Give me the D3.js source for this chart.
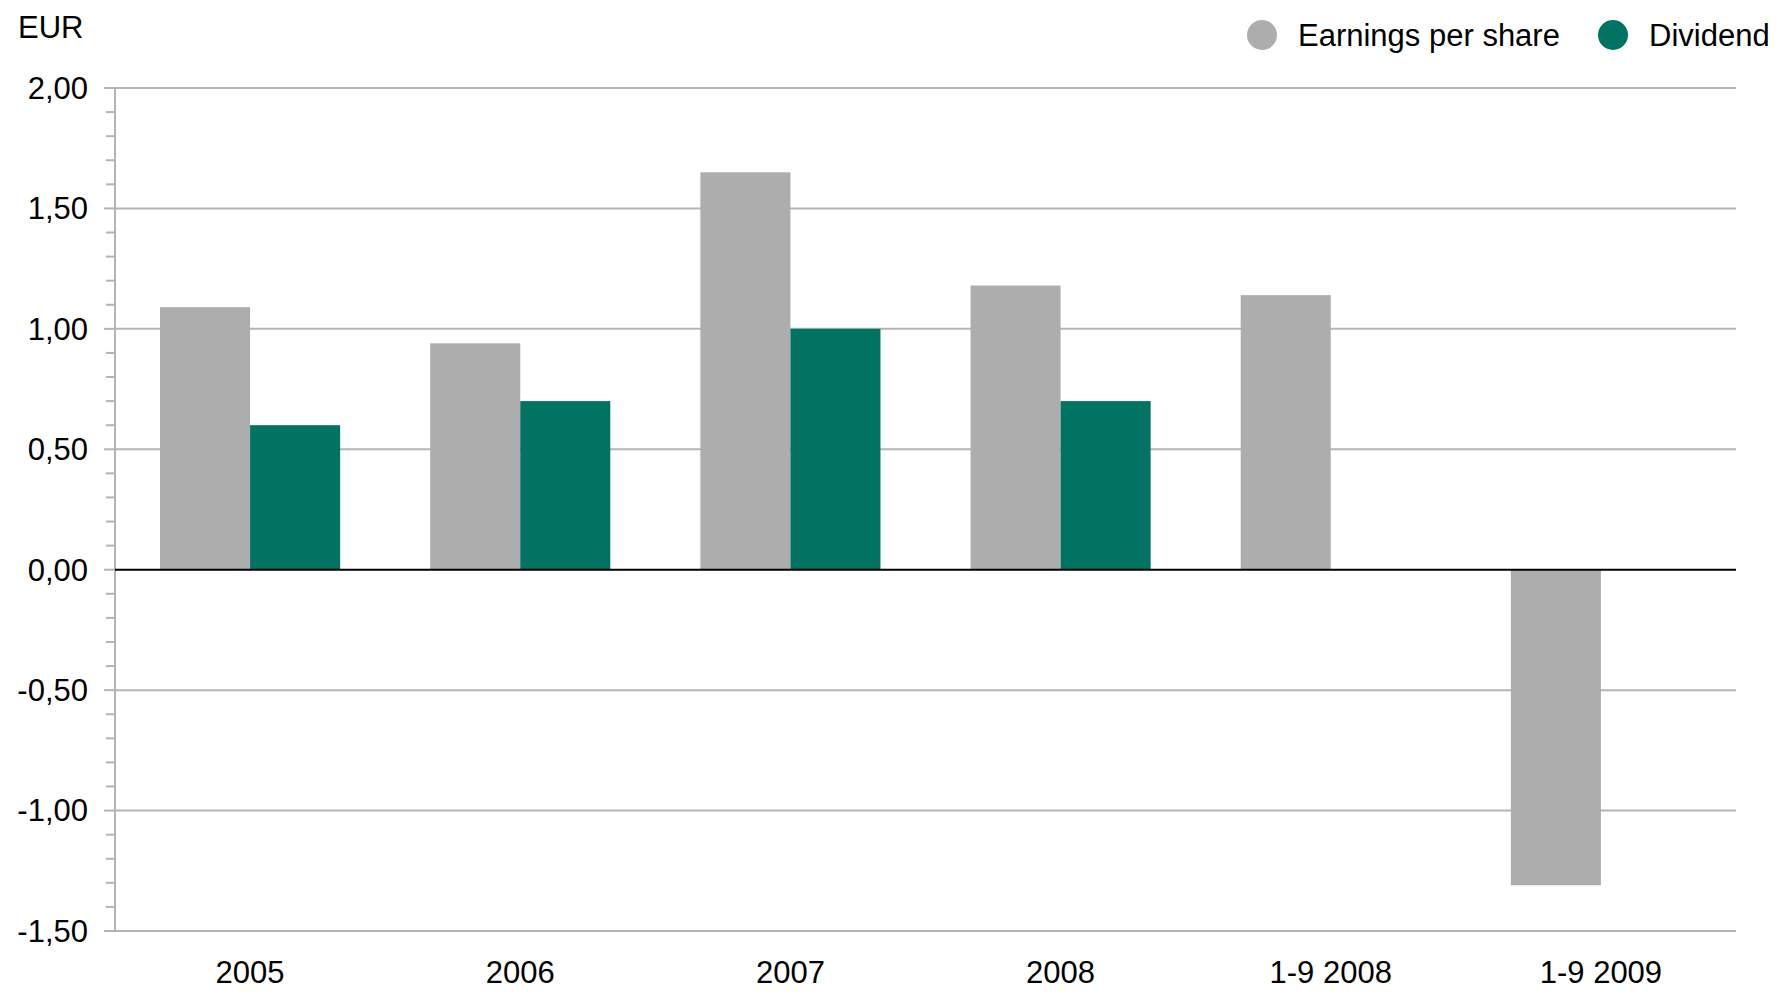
<!DOCTYPE html>
<html>
<head>
<meta charset="utf-8">
<script src="https://cdn.jsdelivr.net/npm/d3@7"></script>
<style>
  html, body { margin: 0; padding: 0; background: #fff; }
  svg { display: block; font-family: "Liberation Sans", Arial, sans-serif; }
</style>
</head>
<body>
<svg id="chart" width="1778" height="992"></svg>
<script>
// Earnings per share and dividend, EUR
const categories = ["2005", "2006", "2007", "2008", "1-9 2008", "1-9 2009"];
const earningsPerShare = [1.09, 0.94, 1.65, 1.18, 1.14, -1.31];
const dividend = [0.60, 0.70, 1.00, 0.70, null, null];
const yTicks = [2.0, 1.5, 1.0, 0.5, 0.0, -0.5, -1.0, -1.5];
const seriesNames = ["Earnings per share", "Dividend"];
const seriesColors = ["#adadad", "#007362"];

const svg = d3.select("#chart");
const margin = { left: 115, right: 42, top: 88, bottom: 61 };
const W = 1778, H = 992;
const FONT = 31;

const x = d3.scaleBand()
  .domain(categories)
  .range([margin.left, W - margin.right])
  .paddingInner(1 / 3)
  .paddingOuter(1 / 6);

const xSub = d3.scaleBand()
  .domain([0, 1])
  .range([0, x.bandwidth()]);

const y = d3.scaleLinear()
  .domain([-1.5, 2.0])
  .range([H - margin.bottom, margin.top]);

const fmt = v => d3.format(".2f")(v).replace(".", ",").replace("−", "-");

// horizontal gridlines
svg.append("g")
  .selectAll("line")
  .data(yTicks.filter(t => t !== 0))
  .join("line")
  .attr("x1", margin.left)
  .attr("x2", W - margin.right)
  .attr("y1", d => y(d))
  .attr("y2", d => y(d))
  .attr("stroke", "#b4b4b4")
  .attr("stroke-width", 2);

// y axis with major and minor ticks
const minorTicks = d3.range(-1.5, 2.0001, 0.1).map(v => Math.round(v * 10) / 10);
svg.append("g")
  .selectAll("line")
  .data(minorTicks)
  .join("line")
  .attr("x1", d => yTicks.some(t => Math.abs(t - d) < 1e-9) ? margin.left - 11 : margin.left - 9)
  .attr("x2", margin.left)
  .attr("y1", d => y(d))
  .attr("y2", d => y(d))
  .attr("stroke", "#b4b4b4")
  .attr("stroke-width", 2);

svg.append("line")
  .attr("x1", margin.left).attr("x2", margin.left)
  .attr("y1", y(2.0) - 1).attr("y2", y(-1.5) + 1)
  .attr("stroke", "#b4b4b4")
  .attr("stroke-width", 2);

svg.append("g")
  .selectAll("text")
  .data(yTicks)
  .join("text")
  .attr("x", 88)
  .attr("y", d => y(d))
  .attr("dy", "0.35em")
  .attr("text-anchor", "end")
  .attr("font-size", FONT)
  .attr("fill", "#000")
  .text(d => fmt(d));

// bars
const rows = categories.map((c, i) => ({ cat: c, vals: [earningsPerShare[i], dividend[i]] }));
const groups = svg.append("g")
  .selectAll("g")
  .data(rows)
  .join("g")
  .attr("transform", d => `translate(${x(d.cat)},0)`);

groups.selectAll("rect")
  .data(d => d.vals.map((v, k) => ({ v, k })).filter(e => e.v !== null))
  .join("rect")
  .attr("x", e => xSub(e.k))
  .attr("width", xSub.bandwidth())
  .attr("y", e => y(Math.max(0, e.v)))
  .attr("height", e => Math.abs(y(e.v) - y(0)))
  .attr("fill", e => seriesColors[e.k]);

// zero baseline
svg.append("line")
  .attr("x1", margin.left)
  .attr("x2", W - margin.right)
  .attr("y1", y(0))
  .attr("y2", y(0))
  .attr("stroke", "#000")
  .attr("stroke-width", 2);

// category labels
svg.append("g")
  .selectAll("text")
  .data(categories)
  .join("text")
  .attr("x", d => x(d) + x.bandwidth() / 2)
  .attr("y", 983)
  .attr("text-anchor", "middle")
  .attr("font-size", FONT)
  .attr("fill", "#000")
  .text(d => d);

// unit label
svg.append("text")
  .attr("x", 18)
  .attr("y", 38)
  .attr("font-size", FONT)
  .attr("fill", "#000")
  .text("EUR");

// legend
const legendX = [1262, 1613];
const legend = svg.append("g")
  .selectAll("g")
  .data(seriesNames)
  .join("g")
  .attr("transform", (d, i) => `translate(${legendX[i]},35)`);
legend.append("circle")
  .attr("r", 15)
  .attr("fill", (d, i) => seriesColors[i]);
legend.append("text")
  .attr("x", 36)
  .attr("dy", "0.35em")
  .attr("font-size", FONT)
  .attr("fill", "#000")
  .text(d => d);
</script>
</body>
</html>
